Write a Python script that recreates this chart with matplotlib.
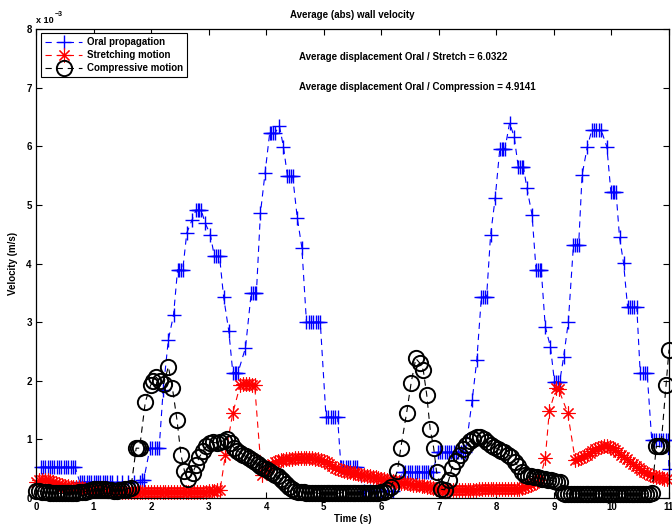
import matplotlib
matplotlib.use('Agg')
import matplotlib.pyplot as plt

plt.rcParams['font.family'] = ['Liberation Sans', 'DejaVu Sans']
plt.rcParams['font.weight'] = 'bold'
plt.rcParams['font.size'] = 7
plt.rcParams['lines.scale_dashes'] = False

# oral propagation velocity (x 1e-3 m/s)
blue_t = [0.08, 0.12, 0.16, 0.20, 0.24, 0.28, 0.32, 0.36, 0.40, 0.44, 0.48, 0.52, 0.56, 0.60, 0.64, 0.68,
          0.76, 0.80, 0.84, 0.88, 0.92, 0.96, 1.00, 1.04, 1.08, 1.12, 1.16, 1.20, 1.24, 1.28, 1.32,
          1.40, 1.50, 1.60, 1.70, 1.80, 1.84, 1.87,
          1.98, 2.02, 2.06, 2.10, 2.14,
          2.21, 2.30, 2.39, 2.46, 2.49, 2.52, 2.55,
          2.62, 2.71, 2.78, 2.81, 2.84, 2.87,
          2.94, 3.03, 3.10, 3.13, 3.16, 3.19,
          3.26, 3.35, 3.42, 3.45, 3.48, 3.51,
          3.64, 3.74, 3.77, 3.80, 3.83,
          3.90, 3.98, 4.06, 4.09, 4.12, 4.15,
          4.23, 4.30, 4.37, 4.40, 4.43, 4.46,
          4.54, 4.62, 4.70, 4.74, 4.78, 4.82, 4.86, 4.90, 4.94,
          5.04, 5.08, 5.12, 5.16, 5.20, 5.24,
          5.30, 5.34, 5.38, 5.42, 5.46, 5.50, 5.54, 5.58,
          5.70, 5.80, 5.90, 6.00, 6.10, 6.20,
          6.38, 6.42, 6.46, 6.50, 6.54, 6.58, 6.62, 6.66, 6.70, 6.74, 6.78, 6.82, 6.86, 6.90,
          6.98, 7.02, 7.06, 7.10, 7.14, 7.18, 7.22, 7.26, 7.30, 7.34, 7.38, 7.42, 7.46,
          7.58, 7.66, 7.74, 7.77, 7.80, 7.83,
          7.90, 7.98, 8.06, 8.09, 8.12, 8.15,
          8.23, 8.31, 8.38, 8.41, 8.44, 8.47,
          8.53, 8.62, 8.69, 8.72, 8.75, 8.78,
          8.85, 8.94, 9.01, 9.04, 9.07, 9.10,
          9.17, 9.25, 9.34, 9.37, 9.40, 9.43,
          9.49, 9.58, 9.66, 9.70, 9.74, 9.78, 9.82, 9.92,
          9.99, 10.02, 10.05, 10.08, 10.14, 10.21,
          10.28, 10.32, 10.36, 10.40, 10.44, 10.50, 10.54, 10.58, 10.62,
          10.70, 10.74, 10.78, 10.82, 10.86, 10.90, 10.94, 10.98, 11.00]
blue_v = [0.53, 0.53, 0.53, 0.53, 0.53, 0.53, 0.53, 0.53, 0.53, 0.53, 0.53, 0.53, 0.53, 0.53, 0.53, 0.53,
          0.27, 0.27, 0.27, 0.27, 0.27, 0.27, 0.27, 0.27, 0.27, 0.27, 0.27, 0.27, 0.27, 0.27, 0.27,
          0.27, 0.27, 0.27, 0.27, 0.28, 0.30, 0.30,
          0.85, 0.85, 0.85, 0.85, 0.85,
          1.84, 2.70, 3.12, 3.89, 3.89, 3.89, 3.89,
          4.52, 4.74, 4.91, 4.91, 4.91, 4.91,
          4.69, 4.49, 4.12, 4.12, 4.12, 4.12,
          3.43, 2.85, 2.14, 2.14, 2.14, 2.14,
          2.56, 3.50, 3.50, 3.50, 3.50,
          4.86, 5.54, 6.22, 6.22, 6.22, 6.22,
          6.35, 5.99, 5.49, 5.49, 5.49, 5.49,
          4.78, 4.27, 3.00, 3.00, 3.00, 3.00, 3.00, 3.00, 3.00,
          1.38, 1.38, 1.38, 1.38, 1.38, 1.38,
          0.53, 0.53, 0.53, 0.53, 0.53, 0.53, 0.53, 0.53,
          0.12, 0.12, 0.12, 0.12, 0.12, 0.12,
          0.45, 0.45, 0.45, 0.45, 0.45, 0.45, 0.45, 0.45, 0.45, 0.45, 0.45, 0.45, 0.45, 0.45,
          0.78, 0.78, 0.78, 0.78, 0.78, 0.78, 0.78, 0.78, 0.78, 0.78, 0.78, 0.78, 0.78,
          1.67, 2.35, 3.43, 3.43, 3.43, 3.43,
          4.49, 5.12, 5.96, 5.96, 5.96, 5.96,
          6.40, 6.16, 5.65, 5.65, 5.65, 5.65,
          5.29, 4.83, 3.89, 3.89, 3.89, 3.89,
          2.92, 2.58, 1.98, 1.98, 1.98, 1.98,
          2.41, 3.00, 4.32, 4.32, 4.32, 4.32,
          5.51, 5.99, 6.28, 6.28, 6.28, 6.28, 6.28, 5.99,
          5.22, 5.22, 5.22, 5.22, 4.45, 4.01,
          3.26, 3.26, 3.26, 3.26, 3.26, 2.13, 2.13, 2.13, 2.13,
          0.99, 0.99, 0.99, 0.99, 0.99, 0.99, 0.99, 0.99, 0.50]

# stretching motion velocity
red_t = [0.00, 0.05, 0.10, 0.15, 0.20, 0.25, 0.30, 0.35, 0.40, 0.45,
         0.50, 0.55, 0.60, 0.65, 0.70, 0.75, 0.80, 0.85, 0.90, 0.95,
         1.00, 1.05, 1.10, 1.15, 1.20, 1.25, 1.30, 1.35, 1.40, 1.45,
         1.50, 1.55, 1.60, 1.65, 1.70, 1.75, 1.80, 1.85, 1.90, 1.95,
         2.00, 2.05, 2.10, 2.15, 2.20, 2.25, 2.30, 2.35, 2.40, 2.45,
         2.50, 2.55, 2.60, 2.65, 2.70, 2.75, 2.80, 2.85, 2.90, 2.95,
         3.00, 3.05, 3.10, 3.15, 3.20,
         3.29, 3.42, 3.55, 3.60, 3.65, 3.70, 3.75, 3.80, 3.92,
         4.00, 4.05, 4.10, 4.15, 4.20, 4.25, 4.30, 4.35, 4.40, 4.45,
         4.50, 4.55, 4.60, 4.65, 4.70, 4.75, 4.80, 4.85, 4.90, 4.95,
         5.00, 5.05, 5.10, 5.15, 5.20, 5.25, 5.30, 5.35, 5.40, 5.45,
         5.50, 5.55, 5.60, 5.65, 5.70, 5.75, 5.80, 5.85, 5.90, 5.95,
         6.00, 6.05, 6.10, 6.15, 6.20, 6.25, 6.30, 6.35, 6.40, 6.45,
         6.50, 6.55, 6.60, 6.65, 6.70, 6.75, 6.80, 6.85, 6.90, 6.95,
         7.00, 7.05, 7.10, 7.15, 7.20, 7.25, 7.30, 7.35, 7.40, 7.45,
         7.50, 7.55, 7.60, 7.65, 7.70, 7.75, 7.80, 7.85, 7.90, 7.95,
         8.00, 8.05, 8.10, 8.15, 8.20, 8.25, 8.30, 8.35, 8.40, 8.45,
         8.50, 8.55, 8.60, 8.65, 8.70, 8.75,
         8.85, 8.92, 9.04, 9.08, 9.24, 9.37,
         9.42, 9.47, 9.52, 9.57, 9.62, 9.67, 9.72, 9.77, 9.82, 9.87,
         9.92, 9.97, 10.02, 10.07, 10.12, 10.17, 10.22, 10.27, 10.32, 10.37,
         10.42, 10.47, 10.52, 10.57, 10.62, 10.67, 10.72, 10.77, 10.82, 10.87,
         10.92, 10.97]
red_v = [0.28, 0.30, 0.31, 0.31, 0.30, 0.29, 0.28, 0.26, 0.24, 0.22,
         0.21, 0.20, 0.19, 0.19, 0.18, 0.18, 0.17, 0.16, 0.16, 0.15,
         0.15, 0.14, 0.14, 0.13, 0.13, 0.13, 0.12, 0.12, 0.12, 0.12,
         0.11, 0.11, 0.11, 0.11, 0.11, 0.10, 0.10, 0.10, 0.10, 0.10,
         0.11, 0.11, 0.11, 0.11, 0.10, 0.10, 0.10, 0.10, 0.11, 0.11,
         0.11, 0.11, 0.10, 0.10, 0.10, 0.10, 0.11, 0.11, 0.11, 0.11,
         0.12, 0.12, 0.12, 0.13, 0.14,
         0.73, 1.45, 1.93, 1.95, 1.95, 1.94, 1.93, 1.92, 0.40,
         0.47, 0.53, 0.58, 0.61, 0.63, 0.64, 0.65, 0.66, 0.67, 0.67,
         0.68, 0.68, 0.69, 0.69, 0.69, 0.68, 0.68, 0.67, 0.66, 0.65,
         0.63, 0.61, 0.58, 0.55, 0.52, 0.50, 0.48, 0.46, 0.45, 0.44,
         0.43, 0.42, 0.41, 0.40, 0.39, 0.38, 0.37, 0.36, 0.35, 0.34,
         0.33, 0.32, 0.31, 0.30, 0.29, 0.28, 0.27, 0.26, 0.25, 0.25,
         0.24, 0.23, 0.22, 0.22, 0.21, 0.20, 0.19, 0.18, 0.17, 0.16,
         0.15, 0.14, 0.14, 0.14, 0.13, 0.13, 0.13, 0.13, 0.13, 0.14,
         0.14, 0.14, 0.14, 0.14, 0.15, 0.15, 0.15, 0.15, 0.15, 0.15,
         0.15, 0.15, 0.15, 0.15, 0.15, 0.15, 0.16, 0.16, 0.16, 0.17,
         0.19, 0.21, 0.23, 0.25, 0.27, 0.30,
         0.68, 1.48, 1.88, 1.86, 1.45, 0.65,
         0.66, 0.68, 0.71, 0.74, 0.77, 0.80, 0.83, 0.85, 0.87, 0.88,
         0.88, 0.87, 0.85, 0.82, 0.78, 0.74, 0.70, 0.66, 0.62, 0.58,
         0.54, 0.51, 0.48, 0.45, 0.42, 0.40, 0.38, 0.36, 0.35, 0.34,
         0.33, 0.32]

# compressive motion velocity
black_t = [0.00, 0.05, 0.10, 0.15, 0.20, 0.25, 0.30, 0.35, 0.40, 0.45,
           0.50, 0.55, 0.60, 0.65, 0.70, 0.75, 0.80, 0.85, 0.90, 0.95,
           1.00, 1.05, 1.10, 1.15, 1.20, 1.25, 1.30, 1.35, 1.40, 1.45,
           1.50, 1.55, 1.60, 1.65,
           1.74, 1.77, 1.80, 1.90, 1.99, 2.04, 2.09, 2.15, 2.22, 2.30,
           2.37, 2.45, 2.52, 2.58, 2.65, 2.72, 2.78, 2.84, 2.90, 2.96,
           3.02, 3.08, 3.14, 3.20, 3.26, 3.32, 3.38, 3.44,
           3.50, 3.55, 3.60, 3.65, 3.70, 3.75, 3.80, 3.85, 3.90, 3.95,
           4.00, 4.05, 4.10, 4.15, 4.20, 4.25, 4.30, 4.35, 4.40, 4.45,
           4.50, 4.55, 4.60, 4.65, 4.70, 4.75, 4.80, 4.85, 4.90, 4.95,
           5.00, 5.05, 5.10, 5.15, 5.20, 5.25, 5.30, 5.35, 5.40, 5.45,
           5.50, 5.55, 5.60, 5.65, 5.70, 5.75, 5.80, 5.85, 5.90, 5.95,
           6.00, 6.05, 6.10,
           6.17, 6.28, 6.34, 6.44, 6.52, 6.60, 6.67, 6.73, 6.79, 6.85,
           6.91, 6.96, 7.04, 7.10, 7.17, 7.23, 7.30, 7.36, 7.42, 7.48,
           7.54, 7.60, 7.66, 7.72, 7.78, 7.84, 7.90, 7.96, 8.02, 8.08,
           8.14, 8.20, 8.26, 8.32, 8.38, 8.44,
           8.50, 8.55, 8.60, 8.65, 8.70, 8.75, 8.80, 8.85, 8.90, 8.95,
           9.00, 9.05, 9.10,
           9.15, 9.20, 9.25, 9.30, 9.35, 9.40, 9.45, 9.50, 9.55, 9.60,
           9.65, 9.70, 9.75, 9.80, 9.85, 9.90, 9.95, 10.00, 10.05, 10.10,
           10.15, 10.20, 10.25, 10.30, 10.35, 10.40, 10.45, 10.50, 10.55, 10.60,
           10.65, 10.70,
           10.78, 10.82, 10.86, 10.95, 11.00]
black_v = [0.12, 0.12, 0.11, 0.10, 0.10, 0.09, 0.09, 0.08, 0.08, 0.08,
           0.08, 0.08, 0.08, 0.09, 0.09, 0.10, 0.10, 0.11, 0.12, 0.14,
           0.15, 0.16, 0.16, 0.16, 0.15, 0.14, 0.13, 0.12, 0.12, 0.13,
           0.14, 0.15, 0.16, 0.17,
           0.85, 0.85, 0.85, 1.64, 1.92, 2.00, 2.06, 1.99, 1.95, 2.24,
           1.88, 1.33, 0.73, 0.46, 0.32, 0.42, 0.56, 0.70, 0.80, 0.88,
           0.94, 0.95, 0.94, 0.95, 0.98, 1.00, 0.93, 0.86,
           0.81, 0.77, 0.74, 0.71, 0.68, 0.64, 0.61, 0.58, 0.55, 0.52,
           0.49, 0.46, 0.43, 0.40, 0.37, 0.33, 0.29, 0.24, 0.19, 0.15,
           0.12, 0.10, 0.10, 0.10, 0.09, 0.09, 0.09, 0.09, 0.08, 0.08,
           0.08, 0.08, 0.08, 0.08, 0.08, 0.08, 0.09, 0.09, 0.09, 0.09,
           0.09, 0.09, 0.09, 0.09, 0.08, 0.08, 0.08, 0.08, 0.08, 0.09,
           0.10, 0.11, 0.13,
           0.19, 0.46, 0.86, 1.45, 1.97, 2.38, 2.30, 2.18, 1.76, 1.17,
           0.86, 0.45, 0.15, 0.14, 0.30, 0.52, 0.63, 0.74, 0.83, 0.91,
           0.97, 1.01, 1.04, 1.04, 1.00, 0.95, 0.91, 0.87, 0.84, 0.81,
           0.78, 0.74, 0.70, 0.62, 0.54, 0.45,
           0.40, 0.38, 0.37, 0.36, 0.35, 0.34, 0.33, 0.32, 0.31, 0.30,
           0.29, 0.28, 0.27,
           0.08, 0.07, 0.07, 0.07, 0.07, 0.07, 0.07, 0.07, 0.07, 0.07,
           0.07, 0.07, 0.07, 0.07, 0.07, 0.07, 0.07, 0.07, 0.07, 0.07,
           0.07, 0.07, 0.07, 0.07, 0.07, 0.07, 0.07, 0.07, 0.07, 0.07,
           0.07, 0.08,
           0.88, 0.88, 0.88, 1.93, 2.53]

ratio_stretch = 6.0322
ratio_compression = 4.9141

fig = plt.figure(figsize=(6.72, 5.27), dpi=100)
ax = fig.add_axes([36 / 672, 1 - 498 / 527, 633 / 672, 469 / 527])

ax.plot(blue_t, blue_v, color='b', ls='--', dashes=(4.5, 3.5), lw=0.8,
        marker='+', ms=10, mew=1.0, clip_on=False, label='Oral propagation')
ax.plot(red_t, red_v, color='r', ls='--', dashes=(4.5, 3.5), lw=0.8,
        marker=(8, 2, 0), ms=10, mew=0.8, mec='r', clip_on=False, label='Stretching motion')
ax.plot(black_t, black_v, color='k', ls='--', dashes=(4.5, 3.5), lw=0.8,
        marker='o', ms=11, mew=1.4, mfc='none', mec='k', clip_on=False, label='Compressive motion')

ax.set_xlim(0, 11)
ax.set_ylim(0, 8)
ax.set_xticks(range(0, 12))
ax.set_yticks(range(0, 9))
ax.tick_params(direction='in', length=4, width=0.8, top=True, right=True, pad=3)
for s in ax.spines.values():
    s.set_linewidth(0.9)

ax.set_title('Average (abs) wall velocity', fontweight='bold', fontsize=7, pad=8)
ax.set_xlabel('Time (s)', fontweight='bold', labelpad=1.5)
ax.set_ylabel('Velocity (m/s)', fontweight='bold', labelpad=6)

fig.text(36 / 672, 1 - 23 / 527, 'x 10', ha='left', va='baseline', fontsize=6.5, fontweight='bold')
fig.text(55 / 672, 1 - 16 / 527, '\u22123', ha='left', va='baseline', fontsize=5, fontweight='bold')

ax.text(4.57, 7.53, 'Average displacement Oral / Stretch = %.4f' % ratio_stretch,
        ha='left', va='center', fontweight='bold')
ax.text(4.57, 7.01, 'Average displacement Oral / Compression = %.4f' % ratio_compression,
        ha='left', va='center', fontweight='bold')

leg = ax.legend(loc='upper left', bbox_to_anchor=(0.008, 0.992), borderaxespad=0,
                fancybox=False, edgecolor='k', framealpha=1, handlelength=3.8,
                handletextpad=0.45, labelspacing=0.3, borderpad=0.45)
leg.get_frame().set_linewidth(0.8)

fig.savefig('out.png', dpi=100)
